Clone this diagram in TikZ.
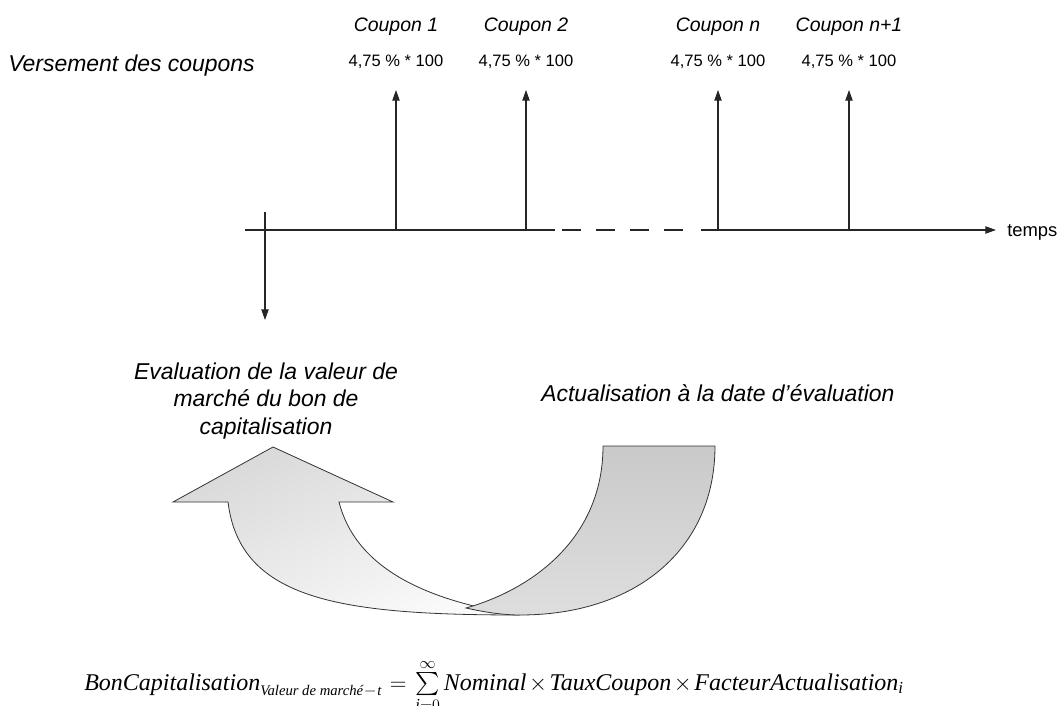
\documentclass[tikz,border=0pt]{standalone}
\usepackage{amsmath}
\usepackage{fontspec}
\setmainfont{Liberation Sans}
\newfontfamily\timesfont{Liberation Serif}
\newcommand{\formtxt}[1]{\text{\timesfont\itshape #1}}
\newcommand{\formsub}[1]{\text{\timesfont\itshape\fontsize{11}{12}\selectfont #1}}
\usetikzlibrary{arrows.meta,positioning}

\begin{document}
\begin{tikzpicture}[x=0.75pt,y=-0.75pt,
      label_big/.style={
         font=\fontsize{17.2}{20.6}\selectfont\itshape,
         inner sep=0pt},
      label_coupon/.style={
         font=\fontsize{14.6}{17}\selectfont\itshape,
         inner sep=0pt,
         anchor=base},
      label_amount/.style={
         font=\fontsize{12.4}{15}\selectfont,
         inner sep=0pt,
         anchor=base},
      arrow_black/.style={
         -{Triangle[length=8pt,width=5.5pt]},
         draw=black!85,
         line width=0.8pt},
      line_axis/.style={
         draw=black!85,
         line width=0.8pt},
      arrow_light/.style={
         draw=black!80,
         line width=0.6pt,
         top color=black!15,
         bottom color=black!2,
         shading angle=25},
      arrow_dark/.style={
         draw=black!80,
         line width=0.6pt,
         top color=black!21,
         bottom color=black!13},
]
      \useasboundingbox (0,0) rectangle (1061,706);

      %coupons
      \node[label_big,anchor=base west] (versement) at (8,72) {Versement des coupons};

      \foreach \i/\xpos/\txt in {% number/x position/coupon
        1/396/1,
        2/526/2,
        3/718/n,
        4/849/n+1}
      {
        \node[label_coupon] (cp\i) at (\xpos,32) {Coupon \txt};
        \node[label_amount] (amt\i) at (\xpos,67) {4,75 \% * 100};
        \coordinate (base\i) at (\xpos,230);
        \coordinate (tip\i) at (\xpos,90);
        \draw[arrow_black] (base\i) -- (tip\i);
      }

      %time axis
      \coordinate (ax_start) at (245,230);
      \coordinate (ax_cut) at (555,230);
      \coordinate (dash_start) at (562,230);
      \coordinate (dash_end) at (684,230);
      \coordinate (ax_resume) at (701,230);
      \coordinate (ax_end) at (996,230);
      \draw[line_axis] (ax_start) -- (ax_cut);
      \draw[line_axis,dash pattern=on 14.25pt off 11.25pt] (dash_start) -- (dash_end);
      \draw[arrow_black] (ax_resume) -- (ax_end);
      \node[font=\fontsize{13.8}{16}\selectfont,inner sep=0pt,anchor=base west] (temps) at (1007,237) {temps};

      %evaluation date
      \coordinate (eval_top) at (265,212);
      \coordinate (eval_tip) at (265,320);
      \draw[arrow_black] (eval_top) -- (eval_tip);
      \node[label_big,align=center,anchor=base] (evaluation) at (266,434)
         {Evaluation de la valeur de\\march\'e du bon de\\capitalisation};

      \node[label_big,anchor=base west] (actualisation) at (541,401)
         {Actualisation \`a la date d’\'evaluation};

      %curved arrows
      \draw[arrow_light] (273,447) -- (393,502) -- (339,502)
         .. controls (355,565) and (420,600) .. (520,615)
         .. controls (340,615) and (240,600) .. (228,502)
         -- (173,502) -- cycle;
      \draw[arrow_dark] (603,446) -- (715,446)
         .. controls (715,550) and (635,615) .. (520,615)
         .. controls (502,615) and (484,612) .. (466,608)
         .. controls (530,590) and (603,540) .. (603,446) -- cycle;

      %formula
      \node[inner sep=0pt,anchor=base west,font=\fontsize{18}{20}\selectfont] (formule) at (84,690)
         {$\formtxt{BonCapitalisation}_{\formsub{Valeur de march\'e}\mkern1mu{-}\mkern1mu\formsub{t}}
           \mkern6mu{=}\mkern4mu \sum\limits_{\formtxt{i}=0}^{\infty} \formtxt{Nominal}\mkern2mu{\times}\mkern2mu
           \formtxt{TauxCoupon}\mkern2mu{\times}\mkern2mu\formtxt{FacteurActualisation}_{\formtxt{i}}$};
\end{tikzpicture}
\end{document}
